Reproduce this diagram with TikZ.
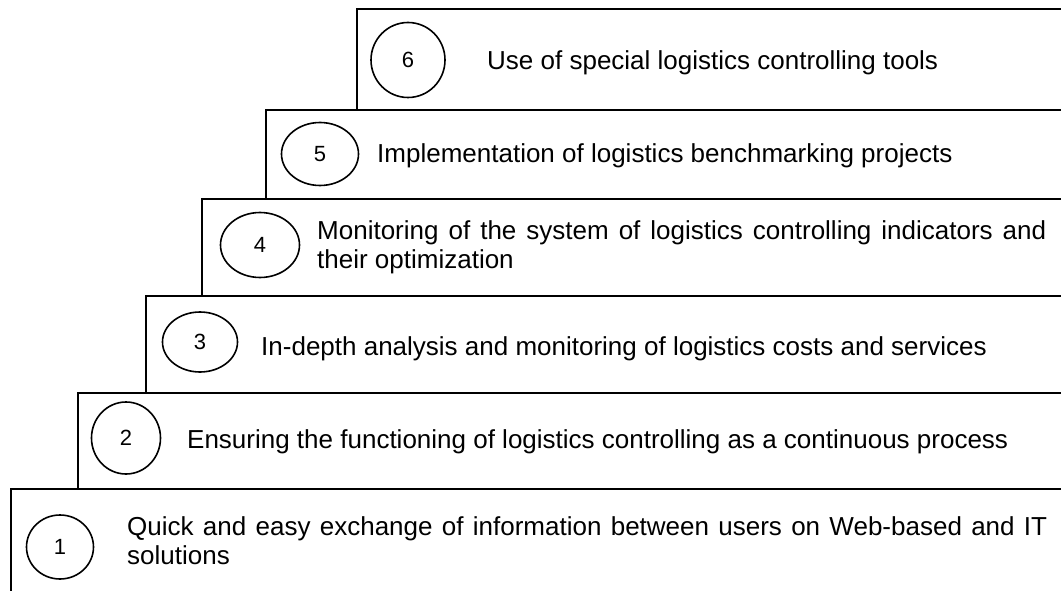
\documentclass[tikz,border=0pt]{standalone}
\usepackage{fontspec}
\setmainfont{Liberation Sans}
\usetikzlibrary{shapes.geometric}
\begin{document}
\begin{tikzpicture}[x=1pt,y=-1pt,
  stepbox/.style={draw, line width=2pt, rectangle, anchor=north west, inner sep=0pt},
  numoval/.style={draw, line width=1.6pt, ellipse, inner sep=0pt,
    font=\fontsize{22}{22}\selectfont},
  steptext/.style={anchor=base west, inner sep=0pt, align=left,
    font=\fontsize{26}{29}\selectfont}]
\useasboundingbox (0,0) rectangle (1061,591);
\clip (0,0) rectangle (1061,591);

% staircase of steps, open to the right
\node[stepbox, minimum width=730pt, minimum height=101pt] (b6) at (356,8) {};
\node[stepbox, minimum width=820pt, minimum height=89pt]  (b5) at (265,109) {};
\node[stepbox, minimum width=885pt, minimum height=97pt]  (b4) at (201,198) {};
\node[stepbox, minimum width=940pt, minimum height=97pt]  (b3) at (145,295) {};
\node[stepbox, minimum width=1010pt, minimum height=96pt] (b2) at (77,392) {};
\node[stepbox, minimum width=1080pt, minimum height=120pt] (b1) at (10,488) {};

% step numbers
\node[numoval, minimum width=74pt, minimum height=75pt] (e6) at (408,60) {6};
\node[numoval, minimum width=77pt, minimum height=63pt] (e5) at (320,154) {5};
\node[numoval, minimum width=79pt, minimum height=65pt] (e4) at (260,245) {4};
\node[numoval, minimum width=75pt, minimum height=60pt] (e3) at (200,342) {3};
\node[numoval, minimum width=69pt, minimum height=72pt] (e2) at (126,438) {2};
\node[numoval, minimum width=67pt, minimum height=64pt] (e1) at (60,547) {1};

% step descriptions (two-line nodes are placed by their last baseline)
\node[steptext] (t6) at (487,70) {Use of special logistics controlling tools};
\node[steptext] (t5) at (377,163) {Implementation of logistics benchmarking projects};
\node[steptext] (t4) at (317,269) {\makebox[729pt][s]{Monitoring of the system of logistics controlling indicators and}\\their optimization};
\node[steptext] (t3) at (261,355) {In-depth analysis and monitoring of logistics costs and services};
\node[steptext] (t2) at (187,448) {Ensuring the functioning of logistics controlling as a continuous process};
\node[steptext] (t1) at (127,564) {\makebox[920pt][s]{Quick and easy exchange of information between users on Web-based and IT}\\solutions};
\end{tikzpicture}
\end{document}
